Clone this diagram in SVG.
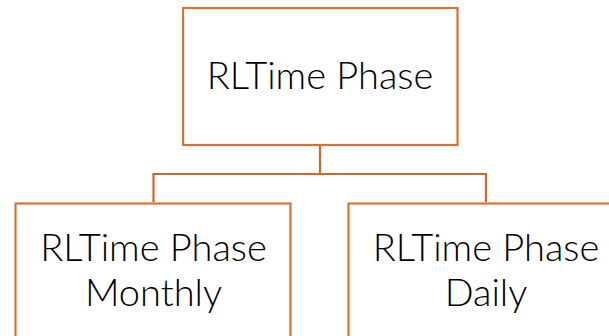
<svg xmlns="http://www.w3.org/2000/svg" width="609" height="336" viewBox="0 0 609 336">
<style>
.box{fill:#fff;stroke:#D7742F;stroke-width:2.2}
.lbl{font-family:Lato,"Open Sans",sans-serif;font-size:38px;font-weight:300;fill:#000;text-anchor:middle}
.conn{fill:none;stroke:#C86A2C;stroke-width:2.2}
</style>
<rect width="609" height="336" fill="#fff"/>
<g id="connectors">
<path class="conn" d="M320 145 V174 M153.5 202 V174 H486 V202"/>
</g>
<g id="root">
<rect class="box" x="183" y="8" width="274.5" height="137"/>
<text class="lbl" x="320" y="89">RLTime Phase</text>
</g>
<g id="monthly">
<rect class="box" x="15.5" y="203.5" width="275" height="140"/>
<text class="lbl" x="153.5" y="261">RLTime Phase</text>
<text class="lbl" x="153.5" y="306">Monthly</text>
</g>
<g id="daily">
<rect class="box" x="348.5" y="203.5" width="275" height="140"/>
<text class="lbl" x="486" y="261">RLTime Phase</text>
<text class="lbl" x="486" y="306">Daily</text>
</g>
</svg>
